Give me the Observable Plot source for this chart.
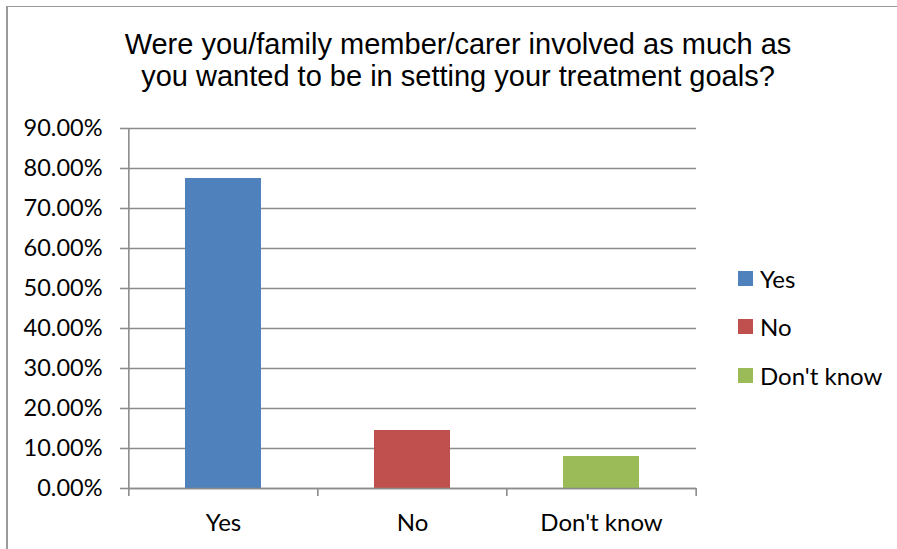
<!DOCTYPE html>
<html>
<head>
<meta charset="utf-8">
<script src="https://cdn.jsdelivr.net/npm/d3@7"></script>
<script src="https://cdn.jsdelivr.net/npm/@observablehq/plot@0.6"></script>
<style>
  html, body { margin: 0; padding: 0; background: #fff; }
  #wrap { position: relative; width: 897px; height: 549px; overflow: hidden; }
  #border { position: absolute; left: 6px; top: 6px; width: 1000px; height: 1000px;
            border-left: 2px solid #9a9a9a; border-top: 1.5px solid #9a9a9a; box-sizing: border-box; }
  #title { position: absolute; left: 0; width: 916px; top: 28px; text-align: center;
           font-family: "Liberation Sans", Arial, sans-serif; font-size: 29px; line-height: 32px; color: #000; }
  #legend { position: absolute; left: 738px; top: 0; font-family: Lato, sans-serif; font-size: 24px; color: #000; }
  .item { position: absolute; left: 0; white-space: nowrap; display: flex; align-items: center; height: 28px; }
  .sw { width: 15px; height: 15px; margin-right: 7px; }
  #chart { position: absolute; left: 0; top: 0; }
</style>
</head>
<body>
<div id="wrap">
  <div id="border"></div>
  <div id="chart"></div>
  <div id="title">Were you/family member/carer involved as much as<br>you wanted to be in setting your treatment goals?</div>
  <div id="legend"></div>
</div>
<script>
const categories = ["Yes", "No", "Don't know"];
const values = [0.775, 0.145, 0.08];
const colors = ["#4F81BD", "#C0504D", "#9BBB59"];
const yTicks = [0, 0.1, 0.2, 0.3, 0.4, 0.5, 0.6, 0.7, 0.8, 0.9];

const data = categories.map((c, i) => ({category: c, value: values[i]}));

const W = 897, H = 549;
const mL = 128, mR = 201, mT = 128, mB = 61;
const padInner = 0.6, padOuter = 0.3;
const step = (W - mL - mR) / (categories.length - padInner + 2 * padOuter);
const grid = "#8c8c8c";

const plot = Plot.plot({
  width: W,
  height: H,
  marginLeft: mL,
  marginRight: mR,
  marginTop: mT,
  marginBottom: mB,
  style: {fontFamily: "Lato, sans-serif", fontSize: "23px", color: "#000", background: "transparent"},
  x: {domain: categories, paddingInner: padInner, paddingOuter: padOuter, label: null},
  y: {domain: [0, 0.9], label: null},
  color: {domain: categories, range: colors},
  marks: [
    Plot.gridY(yTicks, {stroke: grid, strokeOpacity: 1, strokeWidth: 1.6}),
    Plot.axisY(yTicks, {tickSize: 8, tickPadding: 18, tickFormat: d3.format(".2%"), stroke: grid, strokeWidth: 1.6, fill: "#000", label: null, fontSize: 23.5}),
    Plot.barY(data, {x: "category", y: "value", fill: "category"}),
    Plot.ruleY([0], {stroke: grid, strokeWidth: 1.6}),
    Plot.ruleX([categories[0]], {x: d => d, y1: 0.9, y2: 0, dx: -step / 2, insetBottom: -8, stroke: grid, strokeWidth: 1.6}),
    Plot.ruleX(categories.slice(1), {x: d => d, y1: 0, y2: 0, dx: -step / 2, insetBottom: -8, stroke: grid, strokeWidth: 1.6}),
    Plot.ruleX([categories[categories.length - 1]], {x: d => d, y1: 0, y2: 0, dx: step / 2, insetBottom: -8, stroke: grid, strokeWidth: 1.6}),
    Plot.axisX({tickSize: 0, tickPadding: 25, fill: "#000", label: null, fontSize: 24})
  ]
});
document.getElementById("chart").appendChild(plot);

const legendCenters = [278, 326.5, 375];
const legend = document.getElementById("legend");
categories.forEach((c, i) => {
  const it = document.createElement("div");
  it.className = "item";
  it.style.top = (legendCenters[i] - 14) + "px";
  it.innerHTML = `<span class="sw" style="background:${colors[i]}"></span><span>${c}</span>`;
  legend.appendChild(it);
});
</script>
</body>
</html>
